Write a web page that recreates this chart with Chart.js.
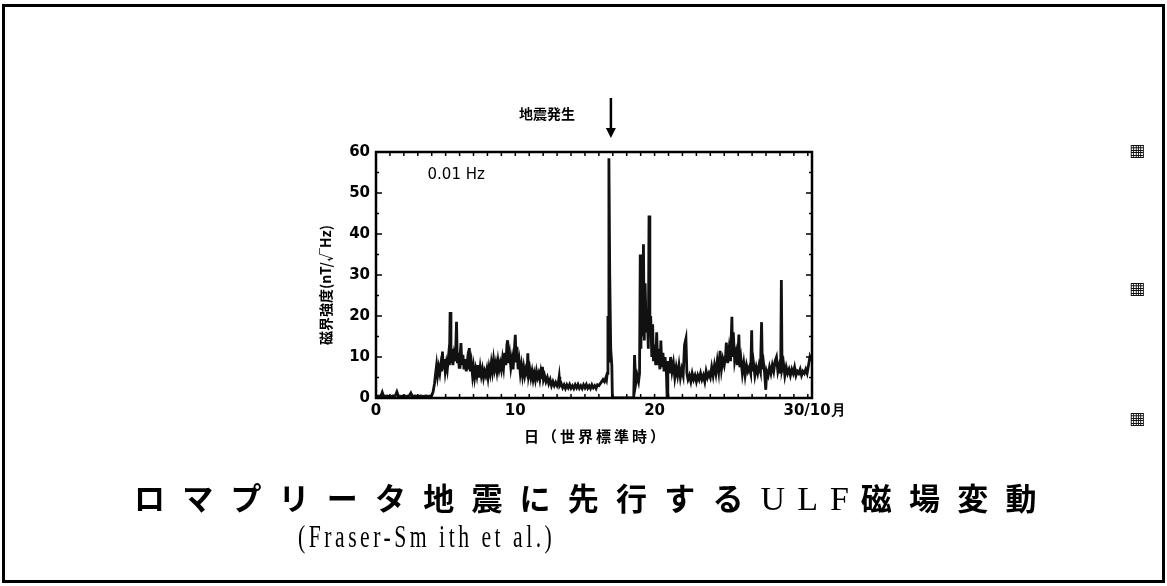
<!DOCTYPE html>
<html lang="ja">
<head>
<meta charset="utf-8">
<script src="https://cdn.jsdelivr.net/npm/chart.js@4.4.1/dist/chart.umd.min.js"></script>
<style>
    body { margin: 0; background: #fff; }
    #wrap { position: relative; width: 1167px; height: 586px; overflow: hidden; }
    #frame { position: absolute; left: 2px; top: 4px; width: 1157px; height: 573px; border: 3px solid #000; }
    canvas { position: absolute; left: 0; top: 0; }
    .title { position: absolute; font-family: "Noto Sans CJK JP", sans-serif; font-weight: 700; color: #000; white-space: nowrap; }
    #title1 { left: 134px; top: 474px; font-size: 31px; letter-spacing: 17.2px; }
    #title1 .lat { font-family: "Liberation Serif", serif; font-weight: 400; font-size: 34px; letter-spacing: 12px; }
    #title2 { left: 298px; top: 519px; font-family: "Liberation Serif", serif; font-weight: 400; font-size: 31px; letter-spacing: 5px; transform: scaleX(0.7); transform-origin: left top; }
    .mark { position: absolute; left: 1129px; font-size: 17px; color: #111; font-family: "DejaVu Sans", sans-serif; }
</style>
</head>
<body>
<div id="wrap">
    <div id="frame"></div>
    <canvas id="ulf-chart" width="1167" height="586"></canvas>
    <div class="title" id="title1">ロマプリータ地震に先行する<span class="lat">ULF</span>磁場変動</div>
    <div class="title" id="title2">(Fraser-Sm ith et al.)</div>
    <div class="mark" style="top:140px">▦</div>
    <div class="mark" style="top:278px">▦</div>
    <div class="mark" style="top:408px">▦</div>
</div>
<script>
// October 1989, 0.01 Hz field strength
const days = [
    0.0, 0.2, 0.35, 0.45, 0.55, 0.8, 1.0, 1.2, 1.4, 1.5, 1.6, 1.8, 2.0, 2.2, 2.4, 2.5, 2.6, 2.8, 3.0, 3.2, 3.4, 3.6, 3.8, 4.0, 4.1,
    4.2, 4.28, 4.35, 4.42, 4.5, 4.58, 4.65, 4.72, 4.77, 4.83, 4.9, 4.97, 5.05, 5.12, 5.2, 5.27, 5.32, 5.38, 5.45, 5.52, 5.6, 5.67, 5.73, 5.78, 5.84, 5.9, 5.97,
    6.03, 6.1, 6.17, 6.24, 6.32, 6.4, 6.48, 6.56, 6.63, 6.7, 6.77, 6.85, 6.93, 7.0, 7.08, 7.16, 7.24, 7.32, 7.4, 7.48, 7.56, 7.64, 7.72, 7.8, 7.88, 7.96,
    8.04, 8.12, 8.2, 8.28, 8.36, 8.44, 8.52, 8.6, 8.68, 8.76, 8.84, 8.92, 9.0, 9.08, 9.16, 9.24, 9.32, 9.4, 9.45, 9.52, 9.6, 9.68, 9.76, 9.84, 9.92,
    10.0, 10.06, 10.12, 10.2, 10.28, 10.36, 10.44, 10.52, 10.6, 10.68, 10.76, 10.84, 10.9, 10.96, 11.04, 11.12, 11.2, 11.28, 11.36, 11.44, 11.52, 11.6, 11.68, 11.76, 11.84, 11.92, 11.95,
    12.02, 12.1, 12.2, 12.3, 12.4, 12.5, 12.6, 12.7, 12.8, 12.9, 13.0, 13.1, 13.15, 13.2, 13.3, 13.4, 13.5, 13.6, 13.7, 13.8, 13.9,
    14.0, 14.1, 14.2, 14.3, 14.4, 14.5, 14.6, 14.7, 14.8, 14.9, 15.0, 15.1, 15.2, 15.3, 15.4, 15.5, 15.6, 15.7, 15.8, 15.9,
    16.0, 16.1, 16.2, 16.3, 16.4, 16.5, 16.55, 16.6, 16.65, 16.68, 16.72, 16.78, 16.85, 16.93, 16.97, 18.5,
    18.56, 18.65, 18.75, 18.85, 18.92, 18.97, 19.02, 19.07, 19.12, 19.2, 19.26, 19.32, 19.4, 19.48, 19.55, 19.6, 19.66, 19.72, 19.8, 19.86, 19.92,
    20.0, 20.08, 20.15, 20.22, 20.3, 20.38, 20.45, 20.52, 20.6, 20.68, 20.75, 20.85, 20.9, 20.95, 21.05, 21.15, 21.25, 21.35, 21.45, 21.55, 21.65, 21.75, 21.85, 21.95,
    22.05, 22.15, 22.25, 22.32, 22.4, 22.5, 22.6, 22.7, 22.8, 22.9, 23.0, 23.1, 23.2, 23.3, 23.4, 23.5, 23.6, 23.7, 23.8, 23.9,
    24.0, 24.1, 24.2, 24.3, 24.4, 24.5, 24.6, 24.7, 24.8, 24.9, 25.0, 25.1, 25.15, 25.25, 25.35, 25.45, 25.55, 25.6, 25.65, 25.75, 25.85, 25.95,
    26.05, 26.12, 26.2, 26.3, 26.4, 26.5, 26.6, 26.7, 26.8, 26.9, 26.97, 27.02, 27.1, 27.2, 27.3, 27.4, 27.5, 27.6, 27.68, 27.74, 27.82, 27.9, 27.98,
    28.05, 28.15, 28.25, 28.35, 28.45, 28.55, 28.65, 28.75, 28.85, 28.95, 29.05, 29.1, 29.15, 29.25, 29.35, 29.45, 29.55, 29.65, 29.75, 29.85, 29.95,
    30.05, 30.15, 30.25, 30.35, 30.45, 30.55, 30.65, 30.75, 30.85, 30.95, 31.05, 31.15, 31.25
];
const field = [
    0.3, 0.5, 0.4, 1.4, 0.4, 0.5, 0.3, 0.5, 0.6, 1.5, 0.5, 0.4, 0.5, 0.4, 0.6, 1.2, 0.4, 0.5, 0.4, 0.5, 0.4, 0.5, 0.4, 0.6, 1.5,
    3.5, 6.0, 8.0, 5.5, 7.5, 6.0, 8.0, 6.5, 11.3, 7.0, 9.5, 6.5, 8.5, 7.0, 10.0, 8.0, 21.0, 8.5, 12.0, 8.0, 10.5, 9.0, 12.5, 18.6, 8.5, 11.0, 7.5,
    10.0, 13.4, 8.0, 10.5, 7.0, 9.5, 6.5, 9.0, 7.0, 12.2, 6.5, 8.5, 5.5, 7.5, 5.0, 7.0, 5.5, 8.0, 5.0, 7.5, 5.5, 7.0, 5.0, 6.5, 5.5, 7.0,
    5.0, 7.5, 6.0, 8.5, 6.5, 9.3, 7.0, 8.5, 6.5, 9.0, 7.0, 8.5, 7.0, 9.5, 7.5, 11.0, 8.0, 13.0, 14.1, 8.5, 10.5, 7.5, 9.5, 7.0, 11.0,
    15.4, 9.0, 12.5, 7.0, 9.0, 6.0, 8.0, 5.5, 7.5, 5.5, 7.0, 6.0, 10.9, 5.5, 7.0, 5.0, 6.5, 4.5, 6.0, 4.5, 6.5, 5.0, 6.0, 4.5, 6.5, 5.0, 7.6,
    4.5, 5.5, 4.0, 5.0, 3.5, 4.5, 3.0, 4.0, 3.0, 3.8, 3.0, 4.0, 5.2, 3.0, 3.5, 2.5, 3.2, 2.3, 3.2, 2.5, 3.3,
    2.4, 3.0, 2.3, 3.2, 2.5, 3.3, 2.4, 3.0, 2.3, 3.2, 2.5, 3.3, 2.4, 3.0, 2.3, 3.2, 2.5, 3.0, 2.3, 3.2,
    3.0, 3.5, 4.0, 4.5, 4.0, 5.0, 4.5, 6.0, 20.0, 9.0, 58.5, 30.0, 12.0, 8.0, 0, 0,
    10.5, 3.5, 5.5, 4.0, 6.0, 35.0, 12.0, 33.0, 15.0, 37.5, 14.0, 28.0, 16.0, 20.0, 12.0, 44.5, 15.0, 20.0, 10.0, 18.0, 9.0,
    13.0, 8.0, 16.0, 8.0, 12.0, 7.0, 14.0, 7.5, 11.0, 6.5, 10.0, 6.0, 0, 9.0, 6.0, 10.0, 6.5, 8.5, 5.0, 7.5, 5.5, 8.0, 5.0, 7.0,
    5.5, 13.0, 14.5, 6.0, 4.5, 5.5, 4.0, 6.0, 4.5, 5.5, 4.0, 5.5, 4.5, 6.0, 4.5, 5.5, 4.0, 6.5, 5.0, 6.0,
    5.0, 7.5, 5.5, 8.0, 6.0, 9.0, 6.5, 11.5, 7.0, 9.5, 8.0, 10.5, 13.5, 8.5, 12.0, 9.0, 19.8, 10.0, 16.0, 9.0, 11.0, 8.0,
    15.5, 7.5, 9.5, 6.0, 8.5, 5.5, 8.0, 6.5, 7.5, 6.0, 16.5, 6.5, 8.5, 5.5, 7.5, 6.0, 8.0, 6.5, 18.5, 7.0, 8.5, 6.0, 2.0,
    6.5, 5.5, 7.5, 6.0, 8.0, 6.5, 9.0, 10.0, 6.5, 8.0, 6.0, 28.8, 7.0, 8.5, 5.5, 7.5, 6.0, 7.0, 5.5, 7.0, 6.0,
    7.5, 5.5, 6.5, 6.0, 7.0, 5.5, 6.5, 6.0, 7.0, 6.0, 8.0, 10.0, 9.0
];

const xTicks = [0, 10, 20, 30];
const xTickText = ['0', '10', '20', '30/10月'];
const yTicks = [0, 10, 20, 30, 40, 50, 60];
const quakeDay = 16.72;
const bandLabel = '0.01 Hz';
const quakeLabel = '地震発生';
const xTitle = '日（世界標準時）';
const yTitle = '磁界強度(nT/√Hz)';

const tickFont = 'bold 15px "DejaVu Sans", sans-serif';

// ticks inside the box, tick labels for x, annotations
const decorPlugin = {
    id: 'decor',
    afterDraw(chart) {
        const { ctx, chartArea: a, scales } = chart;
        const xs = scales.x, ys = scales.y;
        ctx.save();
        ctx.strokeStyle = '#000';
        ctx.lineWidth = 2.5;
        ctx.strokeRect(a.left, a.top, a.right - a.left, a.bottom - a.top);

        ctx.lineWidth = 1.5;
        ctx.beginPath();
        for (let d = 1; d <= 31; d++) {
            const px = xs.getPixelForValue(d);
            ctx.moveTo(px, a.bottom); ctx.lineTo(px, a.bottom - 4);
            ctx.moveTo(px, a.top); ctx.lineTo(px, a.top + 4);
        }
        for (let v = 5; v < 60; v += 5) {
            const py = ys.getPixelForValue(v);
            const len = v % 10 === 0 ? 6 : 3;
            ctx.moveTo(a.left, py); ctx.lineTo(a.left + len, py);
            ctx.moveTo(a.right, py); ctx.lineTo(a.right - len, py);
        }
        ctx.stroke();

        // x tick labels
        ctx.fillStyle = '#000';
        ctx.font = tickFont;
        ctx.textBaseline = 'top';
        xTicks.forEach((t, i) => {
            const px = xs.getPixelForValue(t);
            const txt = xTickText[i];
            if (txt.indexOf('/') > 0) {
                const head = txt.split('/')[0];
                ctx.textAlign = 'left';
                ctx.fillText(txt, px - ctx.measureText(head).width / 2, a.bottom + 6);
            } else {
                ctx.textAlign = 'center';
                ctx.fillText(txt, px, a.bottom + 6);
            }
        });

        // axis titles
        ctx.font = 'bold 15px "Noto Sans CJK JP", sans-serif';
        ctx.textAlign = 'center';
        ctx.textBaseline = 'middle';
        ctx.letterSpacing = '3px';
        ctx.fillText(xTitle, (a.left + a.right) / 2 + 2, a.bottom + 38);
        ctx.letterSpacing = '0px';
        ctx.font = 'bold 14px "Noto Sans CJK JP", sans-serif';
        ctx.save();
        ctx.translate(a.left - 50, (a.top + a.bottom) / 2 + 10);
        ctx.rotate(-Math.PI / 2);
        ctx.fillText(yTitle, 0, 0);
        ctx.restore();

        // band label
        ctx.font = '15px "DejaVu Sans", sans-serif';
        ctx.textAlign = 'left';
        ctx.fillText(bandLabel, xs.getPixelForValue(3.7), ys.getPixelForValue(54.3));

        // quake arrow
        const qx = xs.getPixelForValue(quakeDay) + 2;
        ctx.lineWidth = 2.5;
        ctx.beginPath();
        ctx.moveTo(qx, a.top - 54); ctx.lineTo(qx, a.top - 22);
        ctx.stroke();
        ctx.beginPath();
        ctx.moveTo(qx - 5, a.top - 24); ctx.lineTo(qx + 5, a.top - 24); ctx.lineTo(qx, a.top - 14);
        ctx.closePath();
        ctx.fill();
        ctx.font = 'bold 14px "Noto Sans CJK JP", sans-serif';
        ctx.textAlign = 'right';
        ctx.fillText(quakeLabel, qx - 36, a.top - 38);
        ctx.restore();
    }
};

new Chart(document.getElementById('ulf-chart'), {
    type: 'line',
    data: {
        datasets: [{
            data: days.map((d, i) => ({ x: d, y: field[i] })),
            borderColor: '#111',
            borderWidth: 2.8,
            pointRadius: 0,
            tension: 0,
            fill: false
        }]
    },
    options: {
        responsive: false,
        animation: false,
        layout: { padding: { left: 336, top: 152, right: 355, bottom: 158 } },
        plugins: { legend: { display: false }, tooltip: { enabled: false } },
        scales: {
            x: {
                type: 'linear',
                min: 0,
                max: 31.3,
                grid: { display: false, drawTicks: false },
                border: { display: false },
                ticks: { display: false },
                afterFit(scale) { scale.height = 30; }
            },
            y: {
                min: 0,
                max: 60,
                grid: { display: false, drawTicks: false },
                border: { display: false },
                afterBuildTicks(scale) { scale.ticks = yTicks.map(v => ({ value: v })); },
                ticks: {
                    padding: 6,
                    color: '#000',
                    font: { family: '"DejaVu Sans", sans-serif', size: 15, weight: 'bold' }
                },
                afterFit(scale) { scale.width = 40; }
            }
        }
    },
    plugins: [decorPlugin]
});
</script>
</body>
</html>
